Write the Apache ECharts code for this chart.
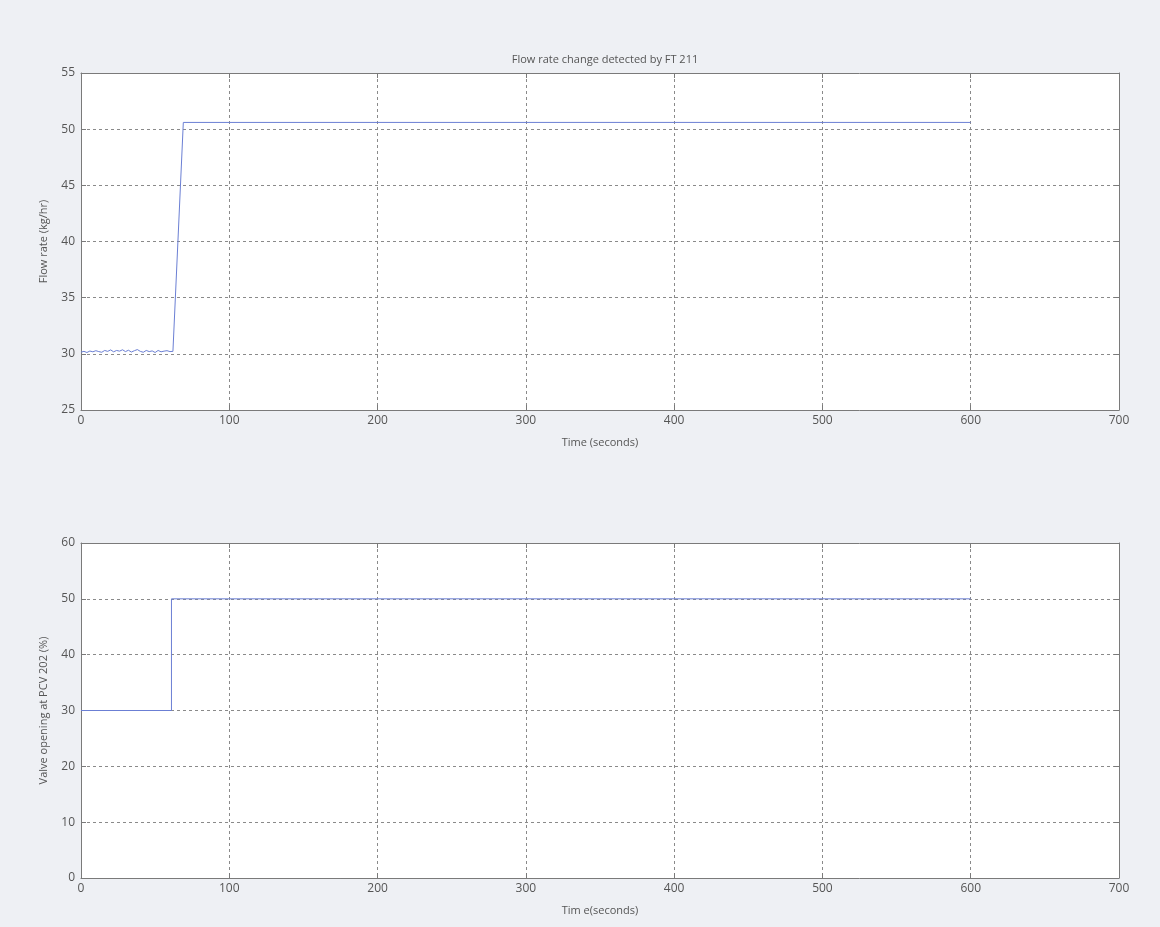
<!DOCTYPE html>
<html>
<head>
<meta charset="utf-8">
<script src="https://cdn.jsdelivr.net/npm/echarts@6/dist/echarts.min.js"></script>
<style>
  html, body { margin: 0; padding: 0; background: #eef0f4; }
  #chart { width: 1160px; height: 927px; }
</style>
</head>
<body>
<div id="chart"></div>
<script>
// FT 211 flow rate samples (seconds, kg/hr): noisy baseline before the step
const flowTimes = [0, 2, 4, 6, 8, 10, 12, 14, 16, 18, 20, 22, 24, 26, 28, 30,
  32, 34, 36, 38, 40, 42, 44, 46, 48, 50, 52, 54, 56, 58, 60, 62, 69, 600];
const flowValues = [30.15, 30.22, 30.12, 30.25, 30.18, 30.28, 30.2, 30.14, 30.3, 30.22,
  30.35, 30.18, 30.3, 30.24, 30.36, 30.2, 30.32, 30.16, 30.28, 30.38, 30.22, 30.14,
  30.3, 30.2, 30.26, 30.12, 30.3, 30.18, 30.24, 30.28, 30.2, 30.22, 50.6, 50.6];

// PCV 202 valve opening (seconds, %)
const valveTimes = [0, 61, 61, 600];
const valveValues = [30, 30, 50, 50];

// Tick setup
const xTicks = { min: 0, max: 700, interval: 100 };
const flowTicks = { min: 25, max: 55, interval: 5 };
const valveTicks = { min: 0, max: 60, interval: 10 };

const flowData = flowTimes.map((t, i) => [t, flowValues[i]]);
const valveData = valveTimes.map((t, i) => [t, valveValues[i]]);

const FONT = '"Open Sans", "DejaVu Sans", sans-serif';
const LABEL_COLOR = '#555';
const AXIS_COLOR = '#7a7a7a';
const LINE_COLOR = '#6b7fd4';

function xAxis(gridIndex, name, position, show) {
  return {
    type: 'value', gridIndex, position,
    min: xTicks.min, max: xTicks.max, interval: xTicks.interval,
    name: show ? name : '', nameLocation: 'middle', nameGap: 27,
    nameTextStyle: { color: LABEL_COLOR, fontSize: 11, fontFamily: FONT },
    axisLine: { show: true, onZero: false, lineStyle: { color: AXIS_COLOR, width: 1 } },
    axisTick: { show: true, inside: true, length: 5, lineStyle: { color: AXIS_COLOR } },
    axisLabel: { show: show, color: LABEL_COLOR, fontSize: 12, fontFamily: FONT, margin: 5 },
    splitLine: { show: show, lineStyle: { color: '#8a8a8a', type: [3, 3], width: 1 } }
  };
}

function yAxis(gridIndex, name, ticks, position, show) {
  return {
    type: 'value', gridIndex, position,
    min: ticks.min, max: ticks.max, interval: ticks.interval,
    name: show ? name : '', nameLocation: 'middle', nameGap: 32, nameRotate: 90,
    nameTextStyle: { color: LABEL_COLOR, fontSize: 11, fontFamily: FONT },
    axisLine: { show: true, onZero: false, lineStyle: { color: AXIS_COLOR, width: 1 } },
    axisTick: { show: true, inside: true, length: 5, lineStyle: { color: AXIS_COLOR } },
    axisLabel: { show: show, color: LABEL_COLOR, fontSize: 12, fontFamily: FONT, margin: 6 },
    splitLine: { show: show, lineStyle: { color: '#8a8a8a', type: [3, 3], width: 1 } }
  };
}

const chart = echarts.init(document.getElementById('chart'));
chart.setOption({
  backgroundColor: '#eef0f4',
  animation: false,
  title: {
    text: 'Flow rate change detected by FT 211',
    left: 600, top: 49, textAlign: 'center',
    textStyle: { color: '#555', fontSize: 11, fontWeight: 'normal', fontFamily: FONT }
  },
  grid: [
    { left: 81, top: 73, width: 1038, height: 337, show: true, backgroundColor: '#ffffff', borderWidth: 0 },
    { left: 81, top: 543, width: 1038, height: 335, show: true, backgroundColor: '#ffffff', borderWidth: 0 }
  ],
  xAxis: [
    xAxis(0, 'Time (seconds)', 'bottom', true),
    xAxis(0, '', 'top', false),
    xAxis(1, 'Tim e(seconds)', 'bottom', true),
    xAxis(1, '', 'top', false)
  ],
  yAxis: [
    yAxis(0, 'Flow rate (kg/hr)', flowTicks, 'left', true),
    yAxis(0, '', flowTicks, 'right', false),
    yAxis(1, 'Valve opening at PCV 202 (%)', valveTicks, 'left', true),
    yAxis(1, '', valveTicks, 'right', false)
  ],
  series: [
    {
      type: 'line', xAxisIndex: 0, yAxisIndex: 0, data: flowData,
      showSymbol: false, lineStyle: { color: LINE_COLOR, width: 1 }
    },
    {
      type: 'line', xAxisIndex: 2, yAxisIndex: 2, data: valveData,
      showSymbol: false, lineStyle: { color: LINE_COLOR, width: 1 }
    }
  ]
});
</script>
</body>
</html>
